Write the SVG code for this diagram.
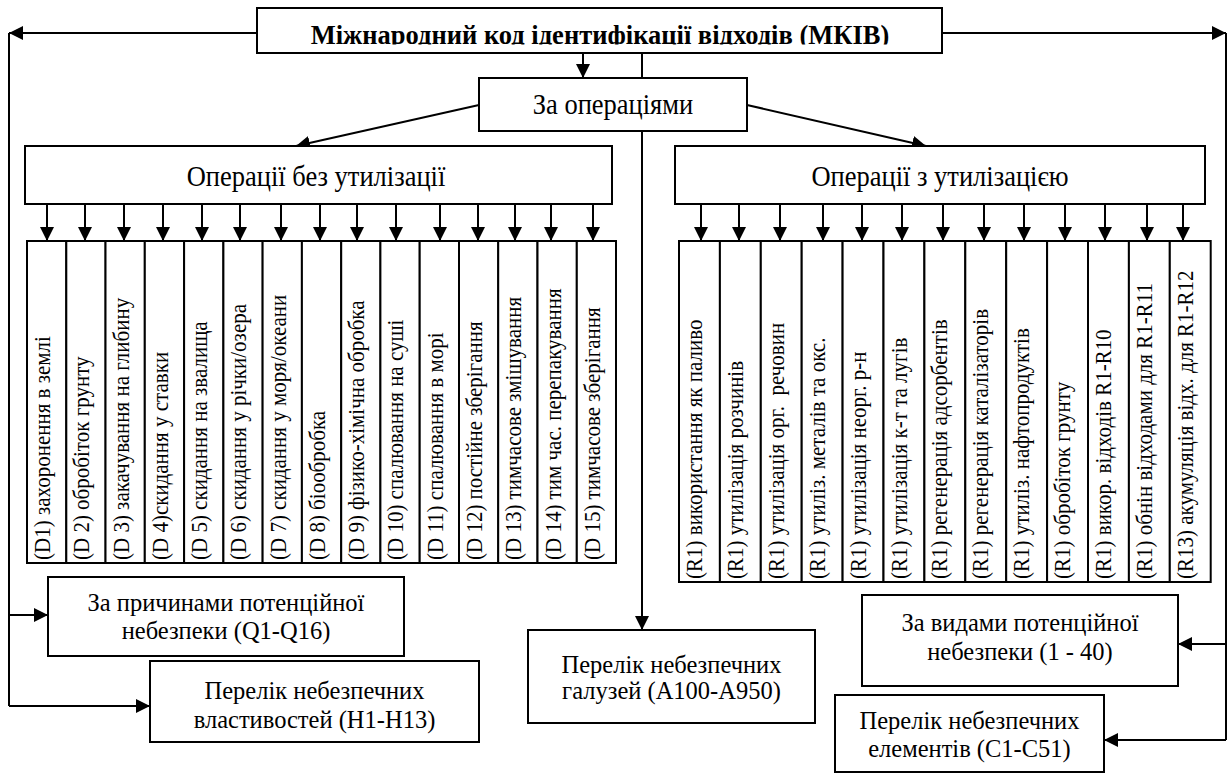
<svg xmlns="http://www.w3.org/2000/svg" width="1230" height="774" viewBox="0 0 1230 774">
<style>
.box{fill:#fff;stroke:#000;stroke-width:2}
.col{fill:#fff;stroke:#000;stroke-width:2}
.ln{fill:none;stroke:#000;stroke-width:2}
.t{font-family:"Liberation Serif","Times New Roman",serif;fill:#000;text-anchor:middle}
.tb{font-family:"Liberation Serif","Times New Roman",serif;fill:#000;text-anchor:middle;font-weight:bold;font-size:26.5px}
.big{font-size:26.5px}
.mid{font-size:24.5px}
.v{font-family:"Liberation Serif","Times New Roman",serif;fill:#000;font-size:21px}
</style>
<defs>
<marker id="ah" markerUnits="userSpaceOnUse" viewBox="0 0 14 14" markerWidth="14" markerHeight="14" refX="14" refY="7" orient="auto">
<path d="M0,0 L14,7 L0,14 z" fill="#000"/>
</marker>
<clipPath id="tclip"><rect x="258" y="9" width="683" height="35.5"/></clipPath>
</defs>
<rect width="1230" height="774" fill="#fff"/>

<g id="connectors" class="ln">
<path d="M257,33 H9" marker-end="url(#ah)"/>
<path d="M9,33 V706"/>
<path d="M9,615 H48" marker-end="url(#ah)"/>
<path d="M9,706 H150" marker-end="url(#ah)"/>
<path d="M942,33 H1226" marker-end="url(#ah)"/>
<path d="M1226,33 V740"/>
<path d="M1226,644 H1178" marker-end="url(#ah)"/>
<path d="M1226,740 H1104" marker-end="url(#ah)"/>
<path d="M583,53 V78" marker-end="url(#ah)"/>
<path d="M642,53 V78"/>
<path d="M642,131 V630" marker-end="url(#ah)"/>
<path d="M479,105 L296,146" marker-end="url(#ah)"/>
<path d="M747,105 L926,146" marker-end="url(#ah)"/>
<path d="M47,204 V241" marker-end="url(#ah)"/>
<path d="M85,204 V241" marker-end="url(#ah)"/>
<path d="M124,204 V241" marker-end="url(#ah)"/>
<path d="M163,204 V241" marker-end="url(#ah)"/>
<path d="M202,204 V241" marker-end="url(#ah)"/>
<path d="M240,204 V241" marker-end="url(#ah)"/>
<path d="M281,204 V241" marker-end="url(#ah)"/>
<path d="M320,204 V241" marker-end="url(#ah)"/>
<path d="M357,204 V241" marker-end="url(#ah)"/>
<path d="M396,204 V241" marker-end="url(#ah)"/>
<path d="M440,204 V241" marker-end="url(#ah)"/>
<path d="M478,204 V241" marker-end="url(#ah)"/>
<path d="M515,204 V241" marker-end="url(#ah)"/>
<path d="M551,204 V241" marker-end="url(#ah)"/>
<path d="M593,204 V241" marker-end="url(#ah)"/>
<path d="M701,204 V241" marker-end="url(#ah)"/>
<path d="M739,204 V241" marker-end="url(#ah)"/>
<path d="M780,204 V241" marker-end="url(#ah)"/>
<path d="M823,204 V241" marker-end="url(#ah)"/>
<path d="M862,204 V241" marker-end="url(#ah)"/>
<path d="M902,204 V241" marker-end="url(#ah)"/>
<path d="M943,204 V241" marker-end="url(#ah)"/>
<path d="M984,204 V241" marker-end="url(#ah)"/>
<path d="M1024,204 V241" marker-end="url(#ah)"/>
<path d="M1065,204 V241" marker-end="url(#ah)"/>
<path d="M1105,204 V241" marker-end="url(#ah)"/>
<path d="M1147,204 V241" marker-end="url(#ah)"/>
<path d="M1183,204 V241" marker-end="url(#ah)"/>
</g>

<g id="n-mkiv">
<rect class="box" x="257" y="8" width="685" height="45"/>
<text class="tb" x="600" y="43.5" clip-path="url(#tclip)">Міжнародний код ідентифікації відходів (МКІВ)</text>
</g>
<g id="n-oper">
<rect class="box" x="479" y="78" width="268" height="53"/>
<text class="t big" transform="translate(613,114) scale(1,1.12)">За операціями</text>
</g>
<g id="n-bez">
<rect class="box" x="25" y="146" width="587" height="58"/>
<text class="t big" transform="translate(316,186) scale(1,1.12)">Операції без утилізації</text>
</g>
<g id="n-z">
<rect class="box" x="675" y="146" width="530" height="58"/>
<text class="t big" transform="translate(940,186) scale(1,1.12)">Операції з утилізацією</text>
</g>

<g id="n-d1"><rect class="col" x="27" y="241" width="39.3" height="322"/><text class="v" transform="translate(50,560) rotate(-90) scale(1,1.08)">(D1) захоронення в землі</text></g>
<g id="n-d2"><rect class="col" x="66.3" y="241" width="39.3" height="322"/><text class="v" transform="translate(89.3,560) rotate(-90) scale(1,1.08)">(D 2) обробіток грунту</text></g>
<g id="n-d3"><rect class="col" x="105.5" y="241" width="39.3" height="322"/><text class="v" transform="translate(128.5,560) rotate(-90) scale(1,1.08)">(D 3) закачування на глибину</text></g>
<g id="n-d4"><rect class="col" x="144.8" y="241" width="39.3" height="322"/><text class="v" transform="translate(167.8,560) rotate(-90) scale(1,1.08)">(D 4)скидання у ставки</text></g>
<g id="n-d5"><rect class="col" x="184.1" y="241" width="39.3" height="322"/><text class="v" transform="translate(207.1,560) rotate(-90) scale(1,1.08)">(D 5) скидання на звалища</text></g>
<g id="n-d6"><rect class="col" x="223.4" y="241" width="39.3" height="322"/><text class="v" transform="translate(246.4,560) rotate(-90) scale(1,1.08)">(D 6) скидання у річки/озера</text></g>
<g id="n-d7"><rect class="col" x="262.6" y="241" width="39.3" height="322"/><text class="v" transform="translate(285.6,560) rotate(-90) scale(1,1.08)">(D 7) скидання у моря/океани</text></g>
<g id="n-d8"><rect class="col" x="301.9" y="241" width="39.3" height="322"/><text class="v" transform="translate(324.9,560) rotate(-90) scale(1,1.08)">(D 8) біообробка</text></g>
<g id="n-d9"><rect class="col" x="341.2" y="241" width="39.3" height="322"/><text class="v" transform="translate(364.2,560) rotate(-90) scale(1,1.08)">(D 9) фізико-хімічна обробка</text></g>
<g id="n-d10"><rect class="col" x="380.4" y="241" width="39.3" height="322"/><text class="v" transform="translate(403.4,560) rotate(-90) scale(1,1.08)">(D 10) спалювання на суші</text></g>
<g id="n-d11"><rect class="col" x="419.7" y="241" width="39.3" height="322"/><text class="v" transform="translate(442.7,560) rotate(-90) scale(1,1.08)">(D 11) спалювання в морі</text></g>
<g id="n-d12"><rect class="col" x="459" y="241" width="39.3" height="322"/><text class="v" transform="translate(482,560) rotate(-90) scale(1,1.08)">(D 12) постійне зберігання</text></g>
<g id="n-d13"><rect class="col" x="498.2" y="241" width="39.3" height="322"/><text class="v" transform="translate(521.2,560) rotate(-90) scale(1,1.08)">(D 13) тимчасове змішування</text></g>
<g id="n-d14"><rect class="col" x="537.5" y="241" width="39.3" height="322"/><text class="v" transform="translate(560.5,560) rotate(-90) scale(1,1.08)">(D 14) тим час. перепакування</text></g>
<g id="n-d15"><rect class="col" x="576.8" y="241" width="39.2" height="322"/><text class="v" transform="translate(599.8,560) rotate(-90) scale(1,1.08)">(D 15) тимчасове зберігання</text></g>

<g id="n-r1"><rect class="col" x="679" y="241" width="40.9" height="341"/><text class="v" transform="translate(702,579) rotate(-90) scale(1,1.08)">(R1) використання як паливо</text></g>
<g id="n-r2"><rect class="col" x="719.9" y="241" width="40.9" height="341"/><text class="v" transform="translate(742.9,579) rotate(-90) scale(1,1.08)">(R1) утилізація розчинів</text></g>
<g id="n-r3"><rect class="col" x="760.8" y="241" width="40.9" height="341"/><text class="v" xml:space="preserve" transform="translate(783.8,579) rotate(-90) scale(1,1.08)">(R1) утилізація орг.  речовин</text></g>
<g id="n-r4"><rect class="col" x="801.7" y="241" width="40.9" height="341"/><text class="v" transform="translate(824.7,579) rotate(-90) scale(1,1.08)">(R1) утиліз. металів та окс.</text></g>
<g id="n-r5"><rect class="col" x="842.6" y="241" width="40.9" height="341"/><text class="v" transform="translate(865.6,579) rotate(-90) scale(1,1.08)">(R1) утилізація неорг. р-н</text></g>
<g id="n-r6"><rect class="col" x="883.5" y="241" width="40.9" height="341"/><text class="v" transform="translate(906.5,579) rotate(-90) scale(1,1.08)">(R1) утилізація к-т та лугів</text></g>
<g id="n-r7"><rect class="col" x="924.4" y="241" width="40.9" height="341"/><text class="v" transform="translate(947.4,579) rotate(-90) scale(1,1.08)">(R1) регенерація адсорбентів</text></g>
<g id="n-r8"><rect class="col" x="965.3" y="241" width="40.9" height="341"/><text class="v" transform="translate(988.3,579) rotate(-90) scale(1,1.08)">(R1) регенерація каталізаторів</text></g>
<g id="n-r9"><rect class="col" x="1006.2" y="241" width="40.9" height="341"/><text class="v" transform="translate(1029.2,579) rotate(-90) scale(1,1.08)">(R1) утиліз. нафтопродуктів</text></g>
<g id="n-r10"><rect class="col" x="1047.1" y="241" width="40.9" height="341"/><text class="v" transform="translate(1070.1,579) rotate(-90) scale(1,1.08)">(R1) обробіток грунту</text></g>
<g id="n-r11"><rect class="col" x="1088" y="241" width="40.9" height="341"/><text class="v" transform="translate(1111,579) rotate(-90) scale(1,1.08)">(R1) викор. відходів R1-R10</text></g>
<g id="n-r12"><rect class="col" x="1128.9" y="241" width="40.9" height="341"/><text class="v" transform="translate(1151.9,579) rotate(-90) scale(1,1.08)">(R1) обнін відходами для R1-R11</text></g>
<g id="n-r13"><rect class="col" x="1169.8" y="241" width="40.9" height="341"/><text class="v" transform="translate(1192.8,579) rotate(-90) scale(1,1.08)">(R13) акумуляція відх. для R1-R12</text></g>

<g id="n-q">
<rect class="box" x="48" y="577" width="356" height="79"/>
<text class="t mid" x="226" y="611">За причинами потенційної</text>
<text class="t mid" x="226" y="639">небезпеки (Q1-Q16)</text>
</g>
<g id="n-h">
<rect class="box" x="150" y="661" width="329" height="81"/>
<text class="t mid" x="314.5" y="699">Перелік небезпечних</text>
<text class="t mid" x="314.5" y="728">властивостей (H1-H13)</text>
</g>
<g id="n-a">
<rect class="box" x="528" y="630" width="287" height="93"/>
<text class="t mid" x="671.5" y="673">Перелік небезпечних</text>
<text class="t mid" x="671.5" y="699">галузей (А100-А950)</text>
</g>
<g id="n-vid">
<rect class="box" x="862" y="595" width="316" height="91"/>
<text class="t mid" x="1020" y="631">За видами потенційної</text>
<text class="t mid" x="1020" y="660">небезпеки (1 - 40)</text>
</g>
<g id="n-c">
<rect class="box" x="835" y="695" width="269" height="77"/>
<text class="t mid" x="969.5" y="729">Перелік небезпечних</text>
<text class="t mid" x="969.5" y="757">елементів (С1-С51)</text>
</g>
</svg>
